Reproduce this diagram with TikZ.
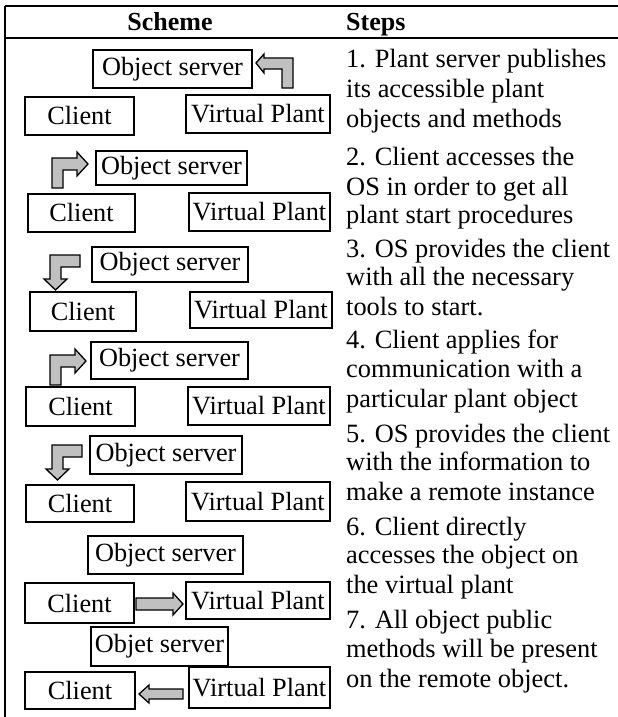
\documentclass[tikz,border=0pt]{standalone}
\usepackage{fontspec}
\setmainfont{Liberation Serif}
\definecolor{arrowgray}{RGB}{192,192,192}
\begin{document}
\begin{tikzpicture}[x=1pt,y=-1pt,
  box/.style={draw=black, line width=1.3pt, inner sep=0pt, font=\fontsize{26.3}{30}\selectfont},
  blockarrow/.style={draw=black, fill=arrowgray, line width=1.3pt, line join=miter},
  stepline/.style={anchor=base west, inner sep=0pt, font=\fontsize{26.4}{30}\selectfont},
  head/.style={anchor=base, inner sep=0pt, font=\fontsize{26}{30}\selectfont\bfseries},
  rule/.style={line width=2pt}]
\useasboundingbox (0,0) rectangle (618,717);
% table rules
\coordinate (tl) at (5,6);
\coordinate (tr) at (618,6);
\coordinate (hl) at (5,38);
\coordinate (hr) at (618,38);
\coordinate (bl) at (5,717);
\draw[rule] (tl) -- (tr);
\draw[rule] (hl) -- (hr);
\draw[rule] (tl) -- (bl);
\node[head] (hs) at (170,31) {Scheme};
\node[head, anchor=base west] (hst) at (346,31) {Steps};
% row 1
\node[box, minimum width=159pt, minimum height=38pt] (os1) at (172.5,69) {Object server};
\node[box, minimum width=109pt, minimum height=38pt] (c1) at (79.5,116) {Client};
\node[box, minimum width=144pt, minimum height=38pt] (vp1) at (258,114) {Virtual Plant};
\draw[blockarrow] (256,63) -- (264,54) -- (264,58) -- (293,58) -- (293,88) -- (282,88) -- (282,69) -- (264,69) -- (264,73) -- cycle;
% row 2
\node[box, minimum width=151pt, minimum height=34pt] (os2) at (171.5,168) {Object server};
\node[box, minimum width=107pt, minimum height=38pt] (c2) at (81.5,213) {Client};
\node[box, minimum width=141pt, minimum height=38pt] (vp2) at (259.5,212) {Virtual Plant};
\begin{scope}[shift={(52,188)}]
\draw[blockarrow] (0,0) -- (0,-30) -- (25,-30) -- (25,-36) -- (36,-24) -- (25,-12) -- (25,-18) -- (11,-18) -- (11,0) -- cycle;
\end{scope}
% row 3
\node[box, minimum width=156pt, minimum height=35pt] (os3) at (170,264.5) {Object server};
\node[box, minimum width=106pt, minimum height=39pt] (c3) at (83,311.5) {Client};
\node[box, minimum width=142pt, minimum height=36pt] (vp3) at (261,310) {Virtual Plant};
\begin{scope}[shift={(80,255)}]
\draw[blockarrow] (0,0) -- (-30,0) -- (-30,24) -- (-36,24) -- (-24.5,35) -- (-13,24) -- (-19,24) -- (-19,12) -- (0,12) -- cycle;
\end{scope}
% row 4
\node[box, minimum width=157pt, minimum height=37pt] (os4) at (169.5,360.5) {Object server};
\node[box, minimum width=109pt, minimum height=39pt] (c4) at (80.5,406.5) {Client};
\node[box, minimum width=142pt, minimum height=38pt] (vp4) at (259,406) {Virtual Plant};
\begin{scope}[shift={(50,385)}]
\draw[blockarrow] (0,0) -- (0,-30) -- (25,-30) -- (25,-36) -- (36,-24) -- (25,-12) -- (25,-18) -- (11,-18) -- (11,0) -- cycle;
\end{scope}
% row 5
\node[box, minimum width=152pt, minimum height=38pt] (os5) at (166,455) {Object server};
\node[box, minimum width=108pt, minimum height=37pt] (c5) at (80,503.5) {Client};
\node[box, minimum width=144pt, minimum height=39pt] (vp5) at (258,501.5) {Virtual Plant};
\begin{scope}[shift={(82,445)}]
\draw[blockarrow] (0,0) -- (-30,0) -- (-30,24) -- (-36,24) -- (-24.5,35) -- (-13,24) -- (-19,24) -- (-19,12) -- (0,12) -- cycle;
\end{scope}
% row 6
\node[box, minimum width=155pt, minimum height=38pt] (os6) at (165.5,555) {Object server};
\node[box, minimum width=109pt, minimum height=40pt] (c6) at (79.5,603) {Client};
\node[box, minimum width=144pt, minimum height=37pt] (vp6) at (258,600.5) {Virtual Plant};
\draw[blockarrow] (136,598) -- (173,598) -- (173,593) -- (183,604) -- (173,615) -- (173,610) -- (136,610) -- cycle;
% row 7
\node[box, minimum width=137pt, minimum height=39pt] (os7) at (159.5,646.5) {Objet server};
\node[box, minimum width=110pt, minimum height=37pt] (c7) at (80,690.5) {Client};
\node[box, minimum width=141pt, minimum height=41pt] (vp7) at (259.5,687.5) {Virtual Plant};
\draw[blockarrow] (139,694) -- (149,685) -- (149,689) -- (183,689) -- (183,699) -- (149,699) -- (149,703) -- cycle;
% steps text
\node[stepline] (s1a) at (346,67) {1. Plant server publishes};
\node[stepline] (s1b) at (346,97) {its accessible plant};
\node[stepline] (s1c) at (346,127) {objects and methods};
\node[stepline] (s2a) at (346,165) {2. Client accesses the};
\node[stepline] (s2b) at (346,195) {OS in order to get all};
\node[stepline] (s2c) at (346,223) {plant start procedures};
\node[stepline] (s3a) at (346,257) {3. OS provides the client};
\node[stepline] (s3b) at (346,285) {with all the necessary};
\node[stepline] (s3c) at (346,315) {tools to start.};
\node[stepline] (s4a) at (346,348) {4. Client applies for};
\node[stepline] (s4b) at (346,377) {communication with a};
\node[stepline] (s4c) at (346,407) {particular plant object};
\node[stepline] (s5a) at (346,442) {5. OS provides the client};
\node[stepline] (s5b) at (346,470) {with the information to};
\node[stepline] (s5c) at (346,500) {make a remote instance};
\node[stepline] (s6a) at (346,535) {6. Client directly};
\node[stepline] (s6b) at (346,563) {accesses the object on};
\node[stepline] (s6c) at (346,593) {the virtual plant};
\node[stepline] (s7a) at (346,628) {7. All object public};
\node[stepline] (s7b) at (346,657) {methods will be present};
\node[stepline] (s7c) at (346,687) {on the remote object.};
\end{tikzpicture}
\end{document}
